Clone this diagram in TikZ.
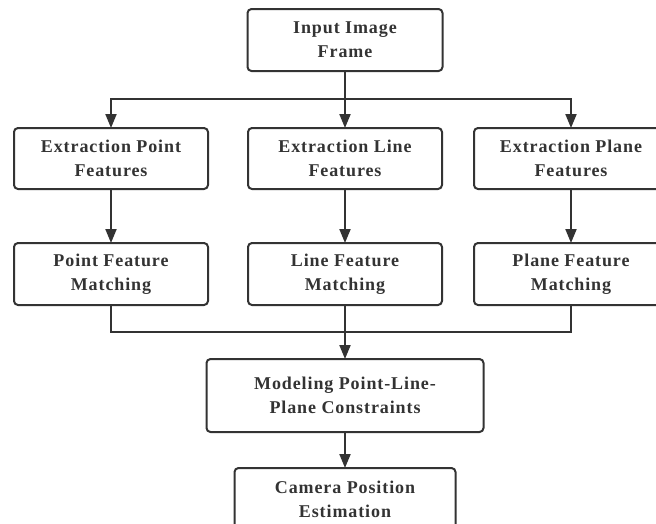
\documentclass[tikz,border=0pt]{standalone}
\usepackage{fontspec}
\setmainfont{Liberation Serif}
\newfontfamily\boxfont[LetterSpace=5]{Liberation Serif}
\usetikzlibrary{arrows.meta}
\definecolor{ink}{HTML}{333333}
\tikzset{
  box/.style={draw=ink, line width=2pt, rounded corners=4pt, align=center,
    text=ink, inner sep=0pt, outer sep=0pt,
    font=\boxfont\fontsize{18}{24}\selectfont\bfseries},
  conn/.style={draw=ink, line width=2pt},
  arr/.style={conn, -{Triangle[width=11pt,length=14pt]}}
}
\begin{document}
\begin{tikzpicture}[x=1pt,y=-1pt]
\useasboundingbox (0,0) rectangle (656,523);
\clip (0,0) rectangle (656,523);
\node[box, minimum width=195pt, minimum height=62pt] (in) at (345,40) {Input Image\\Frame};
\node[box, minimum width=194pt, minimum height=61pt] (ep) at (111,158.5) {Extraction Point\\Features};
\node[box, minimum width=194pt, minimum height=61pt] (el) at (345,158.5) {Extraction Line\\Features};
\node[box, minimum width=194pt, minimum height=61pt] (epl) at (571,158.5) {Extraction Plane\\Features};
\node[box, minimum width=194pt, minimum height=62pt] (pm) at (111,274) {Point Feature\\Matching};
\node[box, minimum width=194pt, minimum height=62pt] (lm) at (345,274) {Line Feature\\Matching};
\node[box, minimum width=194pt, minimum height=62pt] (plm) at (571,274) {Plane Feature\\Matching};
\node[box, minimum width=277pt, minimum height=73pt] (mod) at (345,395.5) {Modeling Point-Line-\\Plane Constraints};
\node[box, minimum width=221pt, minimum height=62pt] (cam) at (345,499) {Camera Position\\Estimation};
\coordinate (b1) at (345,99);
\coordinate (b2) at (345,332);
\draw[conn] (in.south) -- (b1);
\draw[arr] (b1) -| (ep.north);
\draw[arr] (b1) -- (el.north);
\draw[arr] (b1) -| (epl.north);
\draw[arr] (ep.south) -- (pm.north);
\draw[arr] (el.south) -- (lm.north);
\draw[arr] (epl.south) -- (plm.north);
\draw[conn] (pm.south) |- (b2);
\draw[conn] (plm.south) |- (b2);
\draw[conn] (lm.south) -- (b2);
\draw[arr] (b2) -- (mod.north);
\draw[arr] (mod.south) -- (cam.north);
\end{tikzpicture}
\end{document}
